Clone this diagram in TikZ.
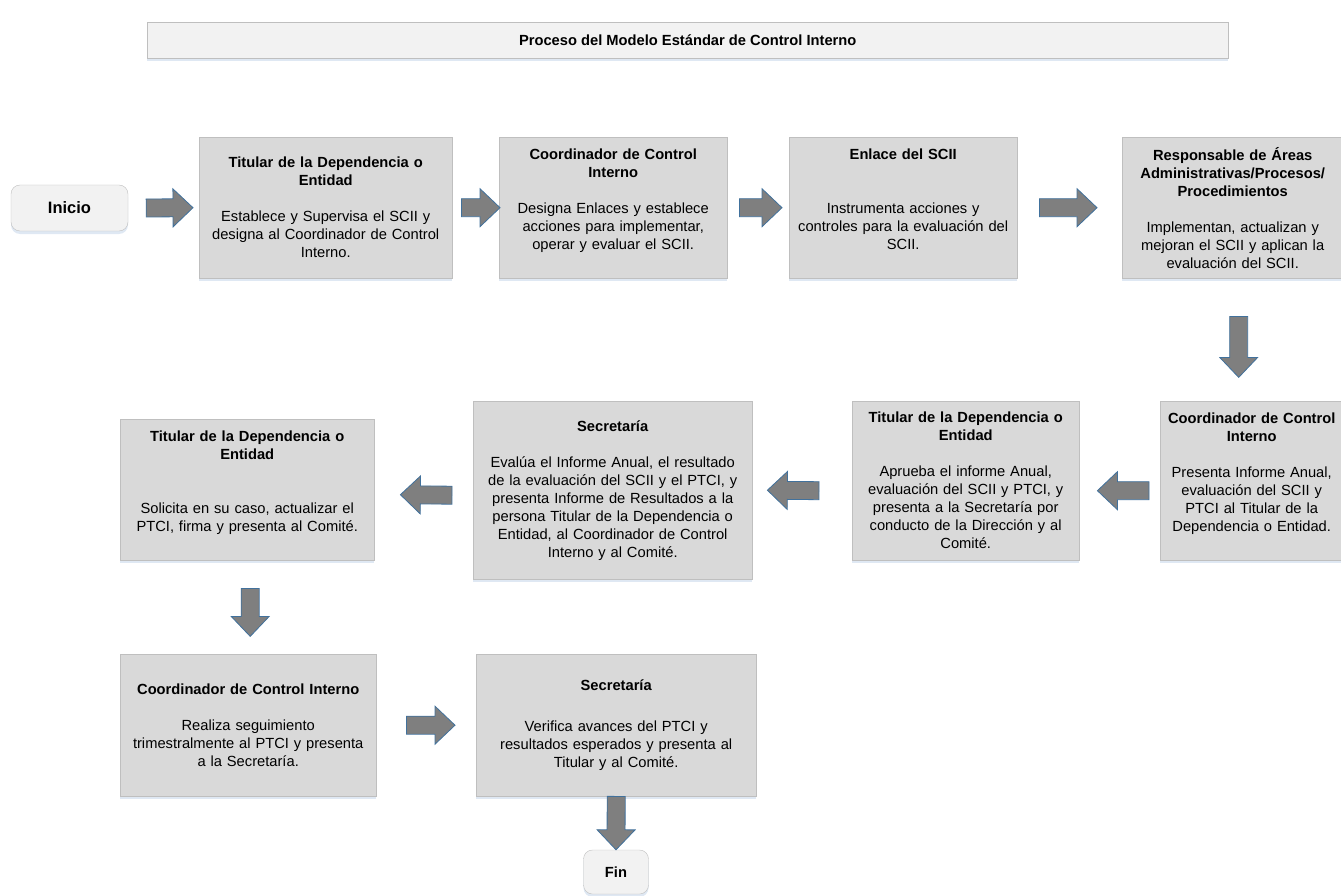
\documentclass[tikz,border=0pt]{standalone}
\usepackage{fontspec}
\setmainfont{Liberation Sans}
\usetikzlibrary{calc, shadows}

\definecolor{cajagris}{HTML}{D9D9D9}
\definecolor{bordegris}{HTML}{BFBFBF}
\definecolor{claro}{HTML}{F2F2F2}
\definecolor{flechagris}{HTML}{7F7F7F}
\definecolor{flechaazul}{HTML}{41719C}
\definecolor{sombra}{HTML}{DCE6F2}

\begin{document}
\begin{tikzpicture}[x=1pt, y=-1pt,
            font=\fontsize{14.7}{18}\selectfont,
            barra/.style={draw=bordegris, fill=claro, anchor=north west, font=\fontsize{14.7}{18}\selectfont\bfseries,
                drop shadow={shadow xshift=0pt, shadow yshift=-3pt, fill=sombra, opacity=0.9}},
            caja/.style={draw=bordegris, fill=cajagris, anchor=north west, align=center, inner sep=4pt,
                drop shadow={shadow xshift=0pt, shadow yshift=-3pt, fill=sombra, opacity=0.9}},
            terminal/.style={draw=bordegris, fill=claro, rounded corners=9pt, font=\fontsize{14.7}{18}\selectfont\bfseries,
                drop shadow={shadow xshift=0pt, shadow yshift=-3pt, fill=sombra, opacity=0.9}},
            flecha/.style={draw=flechaazul, fill=flechagris, line width=0.8pt, to path={
                ($(\tikztostart)!9pt!90:(\tikztotarget)$) --
                ($(\tikztotarget)!20pt!(\tikztostart)!9pt!90:(\tikztotarget)$) --
                ($(\tikztotarget)!20pt!(\tikztostart)!19pt!90:(\tikztotarget)$) --
                (\tikztotarget) --
                ($(\tikztotarget)!20pt!(\tikztostart)!19pt!-90:(\tikztotarget)$) --
                ($(\tikztotarget)!20pt!(\tikztostart)!9pt!-90:(\tikztotarget)$) --
                ($(\tikztostart)!9pt!-90:(\tikztotarget)$) -- cycle}}]

            \useasboundingbox (0,0) rectangle (1341,896);

            % Title bar
            \node[barra, minimum width=1081pt, minimum height=36pt] (titulo) at (147,22) {Proceso del Modelo Estándar de Control Interno};

            % First row
            \node[terminal, minimum width=117pt, minimum height=46pt, font=\fontsize{16.5}{18}\selectfont\bfseries] (inicio) at (69.5,208) {Inicio};

            \node[caja, minimum width=253pt, minimum height=141pt, text width=240pt] (tit1) at (199,137)
                {{\bfseries Titular de la Dependencia o\\Entidad}\\[18pt]
                 Establece y Supervisa el SCII y\\designa al Coordinador de Control\\Interno.};

            \node[caja, minimum width=228pt, minimum height=141pt, text width=216pt] (coord1) at (499,137)
                {{\bfseries Coordinador de Control\\Interno}\\[18pt]
                 Designa Enlaces y establece\\acciones para implementar,\\operar y evaluar el SCII.\\ \mbox{}};

            \node[caja, minimum width=228pt, minimum height=141pt, text width=216pt] (enlace) at (789,137)
                {{\bfseries Enlace del SCII}\\[36pt]
                 Instrumenta acciones y\\controles para la evaluación del\\SCII.\\ \mbox{}};

            \node[caja, minimum width=221pt, minimum height=141pt, text width=209pt] (resp) at (1122,137)
                {{\bfseries Responsable de Áreas\\Administrativas/Procesos/\\Procedimientos}\\[18pt]
                 Implementan, actualizan y\\mejoran el SCII y aplican la\\evaluación del SCII.};

            % Second row
            \node[caja, minimum width=183pt, minimum height=159pt, text width=172pt] (coord2) at (1160,401)
                {{\bfseries Coordinador de Control\\Interno}\\[18pt]
                 Presenta Informe Anual,\\evaluación del SCII y\\PTCI al Titular de la\\Dependencia o Entidad.\\ \mbox{}};

            \node[caja, minimum width=227pt, minimum height=159pt, text width=216pt] (tit2) at (852,401)
                {{\bfseries Titular de la Dependencia o\\Entidad}\\[18pt]
                 Aprueba el informe Anual,\\evaluación del SCII y PTCI, y\\presenta a la Secretaría por\\conducto de la Dirección y al\\Comité.};

            \node[caja, minimum width=279pt, minimum height=178pt, text width=268pt] (sec1) at (473,401)
                {{\bfseries Secretaría}\\[18pt]
                 Evalúa el Informe Anual, el resultado\\de la evaluación del SCII y el PTCI, y\\presenta Informe de Resultados a la\\persona Titular de la Dependencia o\\Entidad, al Coordinador de Control\\Interno y al Comité.};

            \node[caja, minimum width=254pt, minimum height=141pt, text width=242pt] (tit3) at (120,419)
                {{\bfseries Titular de la Dependencia o\\Entidad}\\[36pt]
                 Solicita en su caso, actualizar el\\PTCI, firma y presenta al Comité.\\ \mbox{}};

            % Third row
            \node[caja, minimum width=256pt, minimum height=142pt, text width=244pt] (coord3) at (120,654)
                {{\bfseries Coordinador de Control Interno}\\[18pt]
                 Realiza seguimiento\\trimestralmente al PTCI y presenta\\a la Secretaría.};

            \node[caja, minimum width=280pt, minimum height=142pt, text width=268pt] (sec2) at (476,654)
                {{\bfseries Secretaría}\\[23pt]
                 Verifica avances del PTCI y\\resultados esperados y presenta al\\Titular y al Comité.};

            \node[terminal, minimum width=65pt, minimum height=44pt] (fin) at (616,872) {Fin};

            % Arrow ends
            \coordinate (a1) at ([xshift=18pt]inicio.east);
            \coordinate (a2) at ([xshift=-6pt]tit1.west);
            \coordinate (a3) at ([xshift=9pt]tit1.east);
            \coordinate (a4) at ([xshift=1pt]coord1.west);
            \coordinate (a5) at ([xshift=12pt]coord1.east);
            \coordinate (a6) at ([xshift=-7pt]enlace.west);
            \coordinate (a7) at ([xshift=22pt]enlace.east);
            \coordinate (a8) at ([xshift=-25pt]resp.west);
            \coordinate (b1) at ([xshift=6pt,yshift=-38pt]resp.south);
            \coordinate (b2) at ([yshift=-61pt]b1);
            \coordinate (c1) at ([xshift=-11pt,yshift=-10pt]coord2.west);
            \coordinate (c2) at ([xshift=18pt,yshift=-10pt]tit2.east);
            \coordinate (c3) at ([xshift=-33pt,yshift=-10pt]tit2.west);
            \coordinate (c4) at ([xshift=15pt]sec1.east);
            \coordinate (c5) at ([xshift=-21pt,yshift=-5pt]sec1.west);
            \coordinate (c6) at ([xshift=26pt,yshift=-5pt]tit3.east);
            \coordinate (d1) at ([xshift=3pt,yshift=-28pt]tit3.south);
            \coordinate (d2) at ([yshift=-48pt]d1);
            \coordinate (e1) at ([xshift=30pt]coord3.east);
            \coordinate (e2) at ([xshift=-21pt]sec2.west);

            % Block arrows
            \draw[flecha] (a1) to (a2);
            \draw[flecha] (a3) to (a4);
            \draw[flecha] (a5) to (a6);
            \draw[flecha] (a7) to (a8);
            \draw[flecha] (b1) to (b2);
            \draw[flecha] (c1) to (c2);
            \draw[flecha] (c3) to (c4);
            \draw[flecha] (c5) to (c6);
            \draw[flecha] (d1) to (d2);
            \draw[flecha] (e1) to (e2);
            \draw[flecha] (sec2.south) to (fin.north);
        \end{tikzpicture}
\end{document}
